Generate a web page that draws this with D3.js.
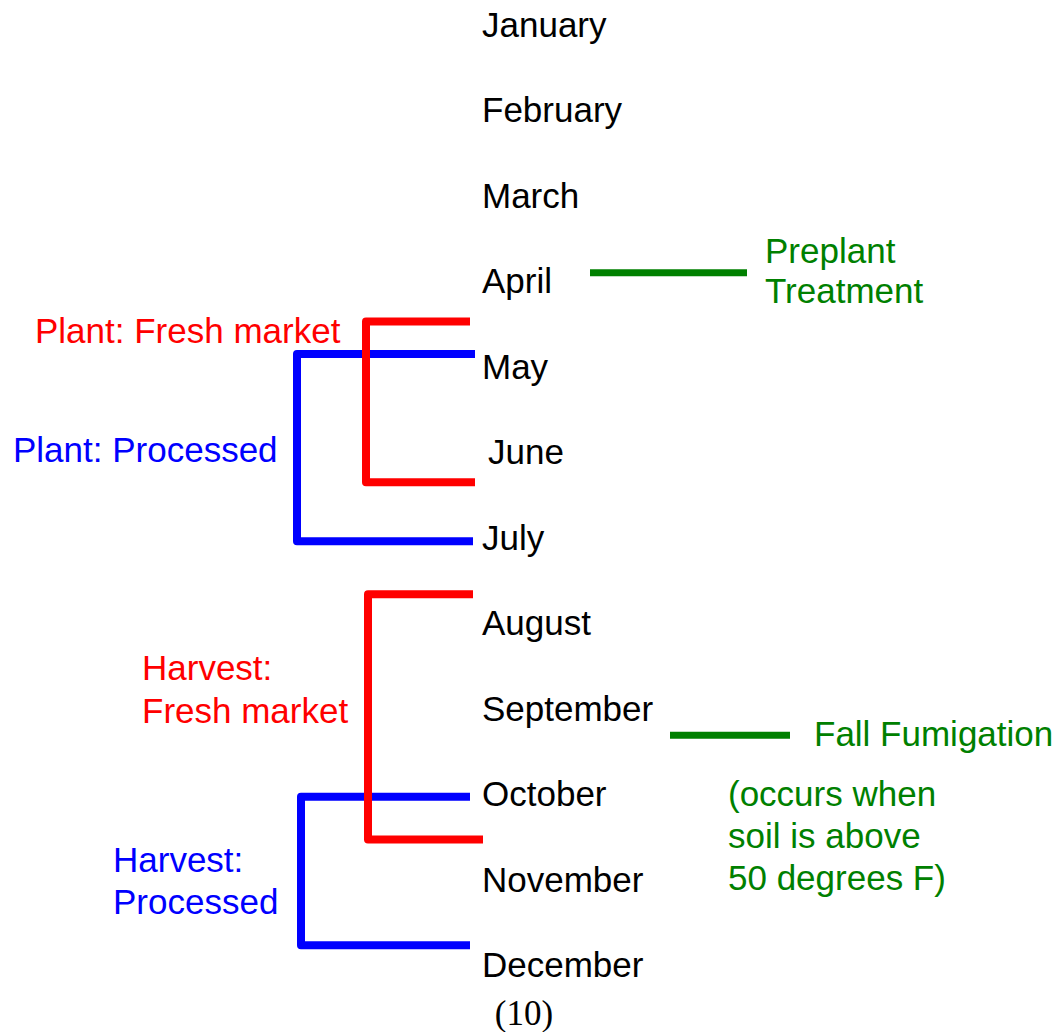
<!DOCTYPE html>
<html>
<head>
<meta charset="utf-8">
<script src="https://cdn.jsdelivr.net/npm/d3@7"></script>
<style>
    html, body { margin: 0; padding: 0; background: #fff; }
    svg text { font-family: "Liberation Sans", Arial, sans-serif; font-size: 35px; }
</style>
</head>
<body>
<div id="chart"></div>
<script>
'use strict';

// months down the timeline
var months = ['January', 'February', 'March', 'April', 'May', 'June',
    'July', 'August', 'September', 'October', 'November', 'December'];

// bracket spans, in month units (0 = January)
var bracketNames = ['plantFresh', 'plantProcessed', 'harvestFresh', 'harvestProcessed'];
var bracketStart = [3.47, 3.85, 6.66, 9.03];
var bracketEnd = [5.35, 6.04, 9.53, 10.77];

// fumigation markers, in month units
var markerNames = ['preplant', 'fall'];
var markerAt = [2.90, 8.31];

var bracketLabels = [
    ['Plant: Fresh market'],
    ['Plant: Processed'],
    ['Harvest:', 'Fresh market'],
    ['Harvest:', 'Processed']
];
var markerLabels = [
    ['Preplant', 'Treatment'],
    ['Fall Fumigation']
];
var noteLines = ['(occurs when', 'soil is above', '50 degrees F)'];
var figureNumber = '(10)';

var width = 1059;
var height = 1032;

var red = '#ff0000', blue = '#0000ff', green = '#008000';

// layout, kept apart from the data
var bracketLayout = {
    plantFresh:       { color: red,  x: 366, topEnd: 470, bottomEnd: 475, lx: 35,  ly: [343] },
    plantProcessed:   { color: blue, x: 297, topEnd: 475, bottomEnd: 473, lx: 13,  ly: [462] },
    harvestFresh:     { color: red,  x: 368, topEnd: 473, bottomEnd: 483, lx: 142, ly: [680, 723] },
    harvestProcessed: { color: blue, x: 301, topEnd: 470, bottomEnd: 470, lx: 113, ly: [872, 914] }
};
var markerLayout = {
    preplant: { x0: 590, x1: 747, lx: 765, ly: [263, 303] },
    fall:     { x0: 670, x1: 790, lx: 814, ly: [746] }
};

var y = d3.scaleLinear().domain([0, 11]).range([25, 965]);

var svg = d3.select('#chart').append('svg')
    .attr('width', width)
    .attr('height', height);

// month labels
svg.selectAll('text.month')
    .data(months)
    .enter().append('text')
    .attr('class', 'month')
    .attr('x', function(d) { return d === 'June' ? 488 : 482; })
    .attr('y', function(d, i) { return y(i) + 12; })
    .attr('fill', '#000')
    .text(function(d) { return d; });

// brackets
var brackets = bracketNames.map(function(name, i) {
    return { name: name, start: bracketStart[i], end: bracketEnd[i], labels: bracketLabels[i], lay: bracketLayout[name] };
});

// draw processed first so the red ones sit on top
var order = [1, 3, 0, 2];
order.forEach(function(i) {
    var b = brackets[i];
    var p = d3.path();
    p.moveTo(b.lay.topEnd, y(b.start));
    p.lineTo(b.lay.x, y(b.start));
    p.lineTo(b.lay.x, y(b.end));
    p.lineTo(b.lay.bottomEnd, y(b.end));
    svg.append('path')
        .attr('d', p.toString())
        .attr('fill', 'none')
        .attr('stroke', b.lay.color)
        .attr('stroke-width', 8)
        .attr('stroke-linejoin', 'round');
});

brackets.forEach(function(b) {
    svg.append('g').selectAll('text')
        .data(b.labels)
        .enter().append('text')
        .attr('x', b.lay.lx)
        .attr('y', function(d, j) { return b.lay.ly[j]; })
        .attr('fill', b.lay.color)
        .text(function(d) { return d; });
});

// fumigation markers
markerNames.forEach(function(name, i) {
    var m = markerLayout[name];
    svg.append('line')
        .attr('x1', m.x0).attr('x2', m.x1)
        .attr('y1', y(markerAt[i])).attr('y2', y(markerAt[i]))
        .attr('stroke', green)
        .attr('stroke-width', 7);

    svg.append('g').selectAll('text')
        .data(markerLabels[i])
        .enter().append('text')
        .attr('x', m.lx)
        .attr('y', function(d, j) { return m.ly[j]; })
        .attr('fill', green)
        .text(function(d) { return d; });
});

svg.append('g').selectAll('text')
    .data(noteLines)
    .enter().append('text')
    .attr('x', 728)
    .attr('y', function(d, j) { return 806 + j * 42; })
    .attr('fill', green)
    .text(function(d) { return d; });

svg.append('text')
    .attr('x', 524)
    .attr('y', 1025)
    .attr('text-anchor', 'middle')
    .style('font-family', '"Liberation Serif", "Times New Roman", serif')
    .style('font-size', '35px')
    .attr('fill', '#000')
    .text(figureNumber);
</script>
</body>
</html>
